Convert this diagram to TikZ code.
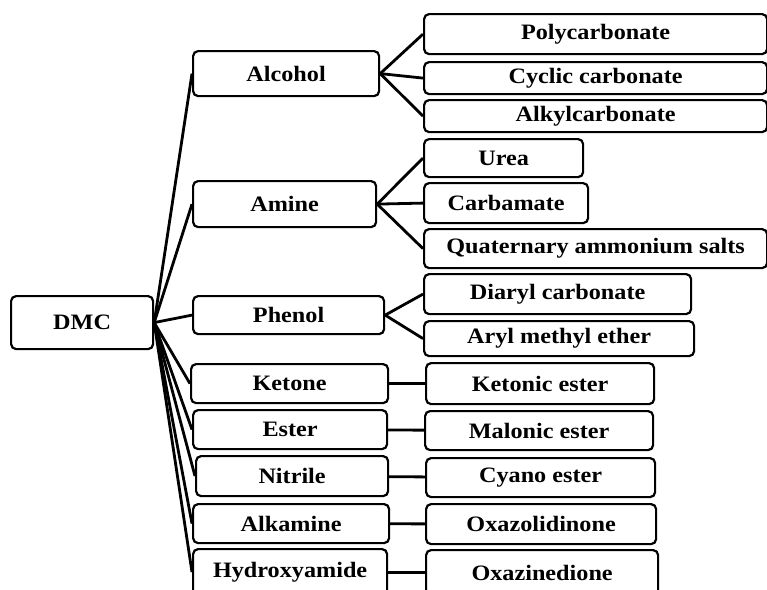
\documentclass[tikz,border=0pt]{standalone}
\usepackage{fontspec}
\setmainfont{Liberation Serif}[FakeStretch=1.1]

\begin{document}
\begin{tikzpicture}[x=1pt,y=-1pt,
  box/.style={draw,rounded corners=5pt,line width=2.2pt,anchor=north west,inner sep=0pt,align=center,font=\fontsize{22}{25}\selectfont\bfseries},
  link/.style={line width=2.8pt}
]
\useasboundingbox (0,0) rectangle (767,589);
\clip (0,0) rectangle (767,589);

% reagent column
\node[box,minimum width=142pt,minimum height=53pt] (dmc) at (10,295) {DMC};
\node[box,minimum width=186pt,minimum height=45pt] (alcohol) at (192,50) {Alcohol};
\node[box,minimum width=183pt,minimum height=46pt] (amine) at (192,180) {Amine};
\node[box,minimum width=191pt,minimum height=38pt] (phenol) at (192,295) {Phenol};
\node[box,minimum width=197pt,minimum height=39pt] (ketone) at (190,363) {Ketone};
\node[box,minimum width=194pt,minimum height=39pt] (ester) at (192,409) {Ester};
\node[box,minimum width=192pt,minimum height=40pt] (nitrile) at (195,455) {Nitrile};
\node[box,minimum width=196pt,minimum height=39pt] (alkamine) at (192,503) {Alkamine};
\node[box,minimum width=194pt,minimum height=46pt] (hydroxyamide) at (192,548) {Hydroxyamide};

% product column
\node[box,minimum width=343pt,minimum height=40pt] (polycarb) at (423,13) {Polycarbonate};
\node[box,minimum width=343pt,minimum height=32pt] (cyclic) at (423,61) {Cyclic carbonate};
\node[box,minimum width=343pt,minimum height=32pt] (alkylcarb) at (423,99) {Alkylcarbonate};
\node[box,minimum width=159pt,minimum height=38pt] (urea) at (423,138) {Urea};
\node[box,minimum width=164pt,minimum height=40pt] (carbamate) at (423,182) {Carbamate};
\node[box,minimum width=343pt,minimum height=39pt] (quatsalt) at (423,228) {Quaternary ammonium salts};
\node[box,minimum width=267pt,minimum height=40pt] (diaryl) at (423,273) {Diaryl carbonate};
\node[box,minimum width=270pt,minimum height=35pt] (arylether) at (423,320) {Aryl methyl ether};
\node[box,minimum width=228pt,minimum height=41pt] (ketonic) at (425,362) {Ketonic ester};
\node[box,minimum width=228pt,minimum height=39pt] (malonic) at (424,410) {Malonic ester};
\node[box,minimum width=229pt,minimum height=39pt] (cyano) at (425,457) {Cyano ester};
\node[box,minimum width=230pt,minimum height=40pt] (oxazolid) at (425,503) {Oxazolidinone};
\node[box,minimum width=232pt,minimum height=45pt] (oxazined) at (425,549) {Oxazinedione};

% DMC to reagents
\foreach \r in {alcohol,amine,phenol,ketone,ester,nitrile,alkamine,hydroxyamide}
  \draw[link] (dmc.east) -- (\r.west);

% reagents to products
\foreach \p in {polycarb,cyclic,alkylcarb}
  \draw[link] (alcohol.east) -- (\p.west);
\foreach \p in {urea,carbamate,quatsalt}
  \draw[link] (amine.east) -- (\p.west);
\foreach \p in {diaryl,arylether}
  \draw[link] (phenol.east) -- (\p.west);
\draw[link] (ketone) -- (ketonic);
\draw[link] (ester) -- (malonic);
\draw[link] (nitrile) -- (cyano);
\draw[link] (alkamine) -- (oxazolid);
\draw[link] (hydroxyamide.east) -- (hydroxyamide.east -| oxazined.west);
\end{tikzpicture}
\end{document}
